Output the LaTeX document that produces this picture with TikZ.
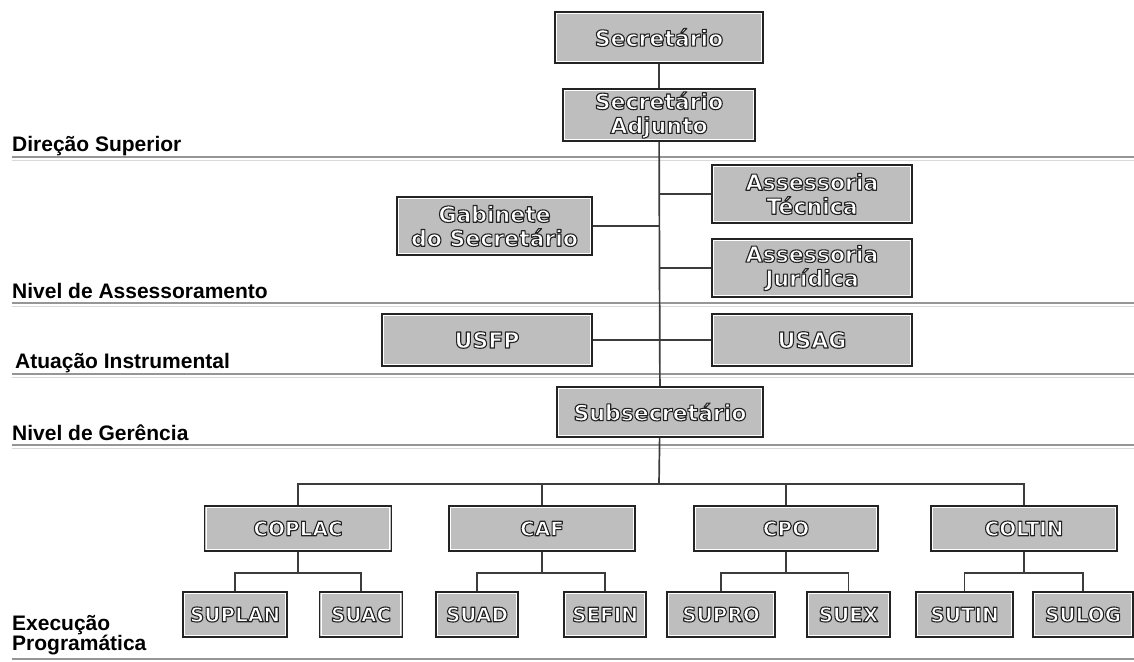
\documentclass[tikz,border=0pt]{standalone}
\usepackage{fontspec}
\setmainfont{Liberation Sans}
\newfontfamily\boxfont{DejaVu Sans}
\usetikzlibrary{calc}

\definecolor{boxgray}{RGB}{190,190,190}
\definecolor{rimdark}{RGB}{35,35,35}
\definecolor{linegray}{RGB}{60,60,60}
\definecolor{levelgray}{RGB}{150,150,150}

% white letters with a dark rim
\newcommand\embtext[1]{{\color{white}%
	\special{pdf:literal direct 2 Tr 1.1 w 1 j 0.137 0.137 0.137 RG}#1%
	\special{pdf:literal direct 0 Tr}}}

\begin{document}
\begin{tikzpicture}[x=1pt,y=-1pt,
	unit/.style={draw=rimdark,line width=1.6pt,fill=boxgray,inner sep=0pt,align=center,
		font=\boxfont\bfseries\fontsize{22}{24}\selectfont},
	small/.style={unit,font=\boxfont\bfseries\fontsize{20}{22}\selectfont},
	conn/.style={draw=linegray,line width=1.7pt},
	level/.style={anchor=base west,inner sep=0pt,font=\bfseries\fontsize{21}{17}\selectfont}]

	\useasboundingbox (0,0) rectangle (1134,661);

	% level lines
	\foreach \y in {157,303,374,445,659} {
		\draw[levelgray,line width=1.2pt] (12,\y) -- (1134,\y);
		\draw[black!15,line width=0.8pt] (12,\y+3) -- (1134,\y+3);
	}

	% level labels
	\node[level] (dir) at (12,151) {Direção Superior};
	\node[level] (ass) at (12,298) {Nivel de Assessoramento};
	\node[level] (atu) at (15,368) {Atuação Instrumental};
	\node[level] (ger) at (12,440) {Nivel de Gerência};
	\node[level,anchor=south west,align=left] (exe) at (12,655.5) {Execução\\Programática};

	% upper boxes
	\node[unit,minimum width=208pt,minimum height=51pt] (sec) at (659,37.5) {\embtext{Secretário}};
	\node[unit,minimum width=192pt,minimum height=52pt] (adj) at (659,115) {\embtext{Secretário}\\\embtext{Adjunto}};
	\node[unit,minimum width=200pt,minimum height=58pt] (tec) at (812,194) {\embtext{Assessoria}\\\embtext{Técnica}};
	\node[unit,minimum width=195pt,minimum height=58pt] (gab) at (494.5,226) {\embtext{Gabinete}\\\embtext{do Secretário}};
	\node[unit,minimum width=200pt,minimum height=58pt] (jur) at (812,268) {\embtext{Assessoria}\\\embtext{Jurídica}};
	\node[unit,minimum width=210pt,minimum height=52pt] (usfp) at (487,340) {\embtext{USFP}};
	\node[unit,minimum width=200pt,minimum height=52pt] (usag) at (812,340) {\embtext{USAG}};
	\node[unit,minimum width=206pt,minimum height=50pt] (sub) at (660,412) {\embtext{Subsecretário}};

	% coordinations
	\node[small,minimum width=187pt,minimum height=45pt] (coplac) at (298,528.5) {\embtext{COPLAC}};
	\node[small,minimum width=186pt,minimum height=45pt] (caf) at (542,528.5) {\embtext{CAF}};
	\node[small,minimum width=184pt,minimum height=45pt] (cpo) at (786,528.5) {\embtext{CPO}};
	\node[small,minimum width=186pt,minimum height=45pt] (coltin) at (1024,528.5) {\embtext{COLTIN}};

	% units
	\node[small,minimum width=104pt,minimum height=45pt] (suplan) at (235,614.5) {\embtext{SUPLAN}};
	\node[small,minimum width=83pt,minimum height=45pt] (suac) at (361,614.5) {\embtext{SUAC}};
	\node[small,minimum width=82pt,minimum height=45pt] (suad) at (477,614.5) {\embtext{SUAD}};
	\node[small,minimum width=82pt,minimum height=45pt] (sefin) at (605,614.5) {\embtext{SEFIN}};
	\node[small,minimum width=108pt,minimum height=45pt] (supro) at (721,614.5) {\embtext{SUPRO}};
	\node[small,minimum width=83pt,minimum height=45pt] (suex) at (848.5,614.5) {\embtext{SUEX}};
	\node[small,minimum width=97pt,minimum height=45pt] (sutin) at (964.5,614.5) {\embtext{SUTIN}};
	\node[small,minimum width=100pt,minimum height=45pt] (sulog) at (1083,614.5) {\embtext{SULOG}};

	% white inner rims
	\foreach \n in {sec,adj,tec,gab,jur,usfp,usag,sub,coplac,caf,cpo,coltin,
		suplan,suac,suad,sefin,supro,suex,sutin,sulog}
		\draw[white,line width=0.7pt] ([shift={(2.5pt,-2.5pt)}]\n.north west) rectangle ([shift={(-2.5pt,2.5pt)}]\n.south east);

	% trunk and staff links
	\draw[conn] (sec) -- (adj);
	\draw[conn] (adj) -- (sub);
	\draw[conn] (tec) -- (tec -| adj);
	\draw[conn] (gab) -- (gab -| adj);
	\draw[conn] (jur) -- (jur -| adj);
	\draw[conn] (usfp) -- (usag);

	% bus to coordinations
	\coordinate (bus) at (659,484);
	\draw[conn] (sub) -- (bus);
	\draw[conn] (coplac) |- (bus);
	\draw[conn] (coltin) |- (bus);
	\draw[conn] (caf) -- (caf |- bus);
	\draw[conn] (cpo) -- (cpo |- bus);

	% buses to units
	\draw[conn] (coplac.south) -- ++(0,21) coordinate (j1);
	\draw[conn] (suplan) |- (j1) -| (suac);
	\draw[conn] (caf.south) -- ++(0,21) coordinate (j2);
	\draw[conn] (suad) |- (j2) -| (sefin);
	\draw[conn] (cpo.south) -- ++(0,21) coordinate (j3);
	\draw[conn] (supro) |- (j3) -| (suex);
	\draw[conn] (coltin.south) -- ++(0,21) coordinate (j4);
	\draw[conn] (sutin) |- (j4) -| (sulog);
\end{tikzpicture}
\end{document}
